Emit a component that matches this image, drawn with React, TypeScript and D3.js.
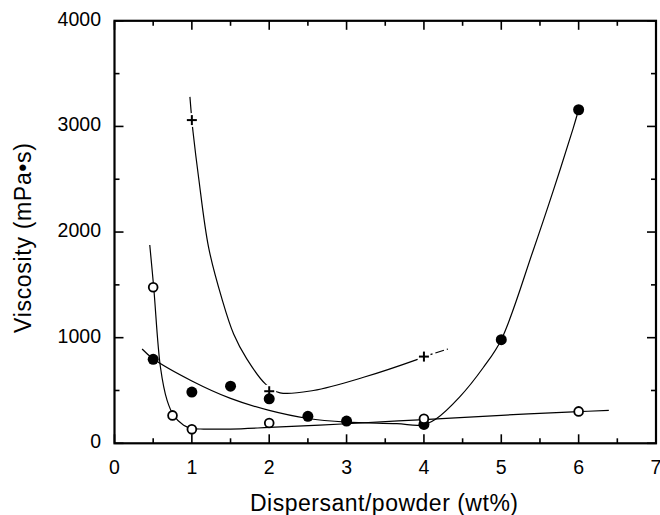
import React from "react";
import * as d3 from "d3";

// ---- data ----
const xTickValues = [0, 1, 2, 3, 4, 5, 6, 7];
const xTickLabels = ["0", "1", "2", "3", "4", "5", "6", "7"];
const xMinorTicks = [0.5, 1.5, 2.5, 3.5, 4.5, 5.5, 6.5];
const yTickValues = [0, 1000, 2000, 3000, 4000];
const yTickLabels = ["0", "1000", "2000", "3000", "4000"];
const yMinorTicks = [500, 1500, 2500, 3500];

// "+" series
const plusX = [1, 2, 4];
const plusY = [3060, 493, 821];
// filled circles series
const filledX = [0.5, 1, 1.5, 2, 2.5, 3, 4, 5, 6];
const filledY = [795, 485, 541, 421, 255, 210, 179, 981, 3158];
// open circles series
const openX = [0.5, 0.75, 1, 2, 4, 6];
const openY = [1478, 264, 132, 192, 233, 302];

// hand-drawn fitted curves (knots)
const plusCurveX = [0.975, 1.0, 1.015, 1.088, 1.217, 1.39, 1.54, 1.71, 1.95, 2.14, 2.57, 3.22, 3.9, 4.0];
const plusCurveY = [3280, 3060, 2950, 2512, 1852, 1365, 1035, 799, 563, 478, 500, 625, 790, 818];
const plusTailX = [4.0, 4.31];
const plusTailY = [821, 893];
const filledCurveX = [0.357, 0.5, 1.0, 1.5, 2.0, 2.5, 3.0, 3.65, 3.97, 4.16, 4.46, 4.77, 5.0, 5.41, 5.67, 5.93, 6.0];
const filledCurveY = [893, 800, 590, 425, 311, 235, 201, 186, 172, 233, 437, 720, 981, 1821, 2387, 2984, 3160];
const openCurveX = [0.456, 0.507, 0.594, 0.68, 0.765, 0.894, 1.0, 1.15, 1.5, 2.0, 3.0, 4.0, 5.0, 6.0, 6.39];
const openCurveY = [1877, 1475, 720, 406, 264, 170, 140, 135, 135, 150, 185, 225, 265, 300, 311];

const xTitle = "Dispersant/powder (wt%)";
const yTitle = "Viscosity (mPa\u2022s)";

const W = 660;
const H = 515;
const L = 114.5;
const R = 656;
const T = 20.8;
const B = 443.3;
const FONT = "'Liberation Sans', Arial, Helvetica, sans-serif";

export default function App() {
  const x = d3.scaleLinear().domain([0, 7]).range([L, R]);
  const y = d3.scaleLinear().domain([0, 4000]).range([B, T]);
  const line = d3
    .line<[number, number]>()
    .x((d) => x(d[0]))
    .y((d) => y(d[1]))
    .curve(d3.curveCatmullRom.alpha(0.5));
  const zip = (a: number[], b: number[]) => a.map((v, i) => [v, b[i]] as [number, number]);

  const major = 9;
  const minor = 5;

  return (
    <svg
      width={W}
      height={H}
      style={{ position: "absolute", left: 0, top: 0, background: "#fff" }}
      fontFamily={FONT}
    >
      <rect x={0} y={0} width={W} height={H} fill="#fff" />
      {/* curves */}
      <g fill="none" stroke="#000" strokeWidth={1.2}>
        <path d={line(zip(plusCurveX, plusCurveY)) || ""} />
        <path d={line(zip(plusTailX, plusTailY)) || ""} strokeDasharray="9,3" />
        <path d={line(zip(filledCurveX, filledCurveY)) || ""} />
        <path d={line(zip(openCurveX, openCurveY)) || ""} />
      </g>
      {/* halos around + markers (gaps in the curve) */}
      {plusX.map((v, i) => (
        <circle key={"h" + i} cx={x(v)} cy={y(plusY[i])} r={7} fill="#fff" />
      ))}
      {/* filled circles */}
      {filledX.map((v, i) => (
        <circle key={"f" + i} cx={x(v)} cy={y(filledY[i])} r={5.5} fill="#000" />
      ))}
      {/* open circles */}
      {openX.map((v, i) => (
        <circle
          key={"o" + i}
          cx={x(v)}
          cy={y(openY[i])}
          r={4.4}
          fill="#fff"
          stroke="#000"
          strokeWidth={1.8}
        />
      ))}
      {/* plus markers */}
      {plusX.map((v, i) => {
        const cx = x(v);
        const cy = y(plusY[i]);
        return (
          <g key={"p" + i} stroke="#000" strokeWidth={2}>
            <line x1={cx - 5} x2={cx + 5} y1={cy} y2={cy} />
            <line x1={cx} x2={cx} y1={cy - 5} y2={cy + 5} />
          </g>
        );
      })}
      {/* frame */}
      <rect x={L} y={T} width={R - L} height={B - T} fill="none" stroke="#000" strokeWidth={2.2} />
      {/* ticks */}
      <g stroke="#000" strokeWidth={1.6}>
        {xTickValues.map((v) => (
          <g key={"xt" + v}>
            <line x1={x(v)} x2={x(v)} y1={B} y2={B - major} />
            <line x1={x(v)} x2={x(v)} y1={T} y2={T + major} />
          </g>
        ))}
        {xMinorTicks.map((v) => (
          <g key={"xm" + v}>
            <line x1={x(v)} x2={x(v)} y1={B} y2={B - minor} />
            <line x1={x(v)} x2={x(v)} y1={T} y2={T + minor} />
          </g>
        ))}
        {yTickValues.map((v) => (
          <g key={"yt" + v}>
            <line x1={L} x2={L + major} y1={y(v)} y2={y(v)} />
            <line x1={R} x2={R - major} y1={y(v)} y2={y(v)} />
          </g>
        ))}
        {yMinorTicks.map((v) => (
          <g key={"ym" + v}>
            <line x1={L} x2={L + minor} y1={y(v)} y2={y(v)} />
            <line x1={R} x2={R - minor} y1={y(v)} y2={y(v)} />
          </g>
        ))}
      </g>
      {/* tick labels */}
      <g fontSize={19.5} fill="#000">
        {xTickValues.map((v, i) => (
          <text key={"xl" + v} x={x(v)} y={474} textAnchor="middle">
            {xTickLabels[i]}
          </text>
        ))}
        {yTickValues.map((v, i) => (
          <text key={"yl" + v} x={101} y={y(v) + 5} textAnchor="end">
            {yTickLabels[i]}
          </text>
        ))}
      </g>
      {/* axis titles */}
      <text
        x={384}
        y={511}
        fontSize={23}
        textAnchor="middle"
        textLength={268}
        lengthAdjust="spacing"
      >
        {xTitle}
      </text>
      <text
        transform={`translate(31,238) rotate(-90)`}
        fontSize={23}
        textAnchor="middle"
        textLength={190}
        lengthAdjust="spacing"
      >
        {yTitle}
      </text>
    </svg>
  );
}
